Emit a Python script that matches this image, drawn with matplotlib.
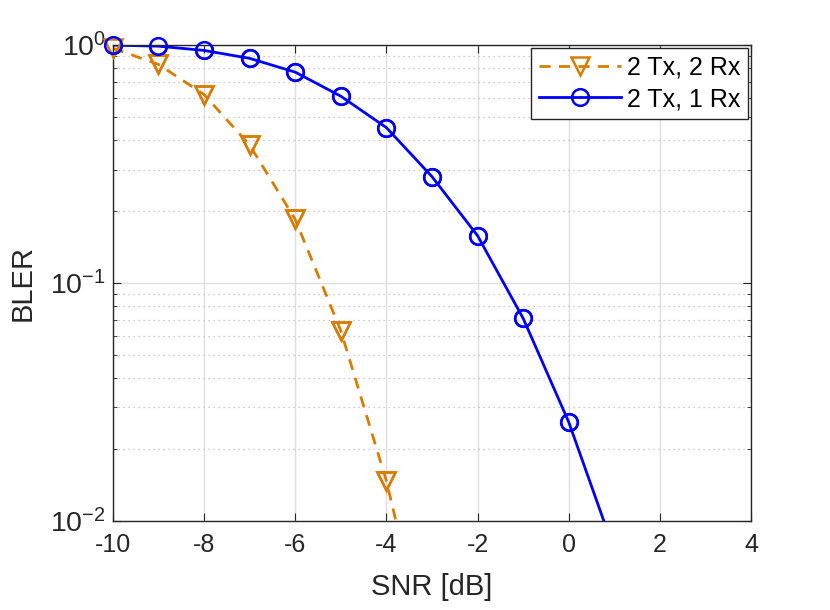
import math
import matplotlib.pyplot as plt
from matplotlib.ticker import LogLocator, NullFormatter, FuncFormatter

plt.rcParams['font.family'] = ['Liberation Sans', 'DejaVu Sans']
plt.rcParams['axes.unicode_minus'] = False
plt.rcParams['mathtext.fontset'] = 'custom'
plt.rcParams['mathtext.rm'] = 'Liberation Sans'

snr_2rx = [-10, -9, -8, -7, -6, -5, -4, -3]
bler_2rx = [0.97, 0.83, 0.62, 0.38, 0.185, 0.063, 0.0147, 0.0023]

snr_1rx = [-10, -9, -8, -7, -6, -5, -4, -3, -2, -1, 0, 1]
bler_1rx = [1.0, 0.99, 0.95, 0.88, 0.77, 0.61, 0.45, 0.28, 0.158, 0.071, 0.026, 0.0075]

labels = ["2 Tx, 2 Rx", "2 Tx, 1 Rx"]
orange = '#d97d00'
blue = '#0000ff'
ymin, ymax = 1e-2, 1.0

fig = plt.figure(figsize=(8.3, 6.1), dpi=100)
ax = fig.add_axes([0.136, 0.146, 0.769, 0.78])

series = [(snr_2rx, bler_2rx, '--', orange, 'v', 13),
          (snr_1rx, bler_1rx, '-', blue, 'o', 12)]
for (x, y, ls, c, m, ms), lab in zip(series, labels):
    ax.plot(x, y, ls=ls, color=c, lw=2, marker=m, ms=ms, mfc='none',
            mew=1.8, label=lab, dashes=(4, 3) if ls == '--' else (None, None))
    # redraw the markers inside the y range without clipping (MATLAB look)
    xs = [a for a, b in zip(x, y) if ymin <= b <= ymax]
    ys = [b for b in y if ymin <= b <= ymax]
    ax.plot(xs, ys, ls='none', color=c, marker=m, ms=ms, mfc='none',
            mew=1.8, clip_on=False, zorder=3)

ax.set_yscale('log')
ax.set_xlim(-10, 4)
ax.set_ylim(ymin, ymax)
ax.set_xticks(range(-10, 5, 2))
ax.yaxis.set_major_formatter(FuncFormatter(
    lambda v, p: r'$\mathregular{10^{%d}}$' % round(math.log10(v))))
ax.yaxis.set_minor_locator(LogLocator(base=10, subs=range(2, 10)))
ax.yaxis.set_minor_formatter(NullFormatter())

ax.grid(True, which='major', color='#dedede', lw=1, ls='-')
ax.grid(True, which='minor', axis='y', color='#bdbdbd', lw=0.9, ls=(0, (1, 3)))
ax.set_axisbelow(True)

ax.tick_params(which='both', direction='in', top=True, right=True,
               colors='#262626', labelsize=18, length=6)
ax.tick_params(axis='x', pad=9)
ax.tick_params(axis='y', pad=5, labelsize=20.5)
ax.tick_params(which='minor', length=3)
for s in ax.spines.values():
    s.set_color('#262626')
    s.set_linewidth(1)

ax.set_xlabel("SNR [dB]", fontsize=21, color='#262626', labelpad=11)
ax.set_ylabel("BLER", fontsize=21, color='#262626', labelpad=10)

leg = ax.legend(loc='upper right', fontsize=18, fancybox=False, framealpha=1,
                edgecolor='#262626', borderaxespad=0.12, handlelength=3.3,
                borderpad=0.3, labelspacing=0.3, handletextpad=0.25)
leg.get_frame().set_linewidth(1)

fig.savefig('out.png', dpi=100)
